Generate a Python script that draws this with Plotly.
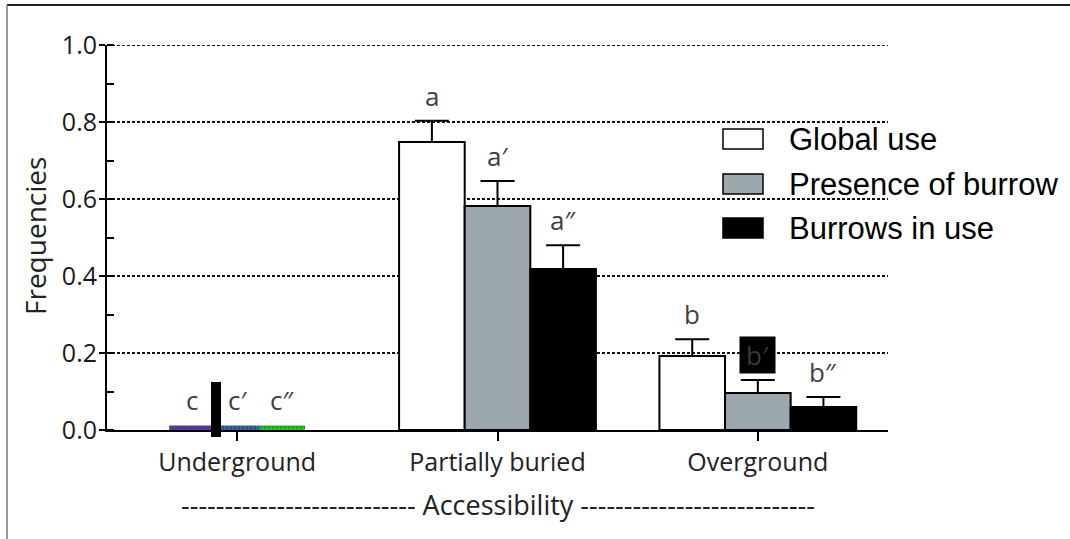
import plotly.graph_objects as go

# ---------------- data ----------------
categories = ["Underground", "Partially buried", "Overground"]
series_names = ["Global use", "Presence of burrow", "Burrows in use"]

global_use = [0.012, 0.748, 0.192]
presence_of_burrow = [0.012, 0.582, 0.096]
burrows_in_use = [0.012, 0.418, 0.060]

err_global_use = [0.0, 0.055, 0.044]
err_presence_of_burrow = [0.0, 0.065, 0.034]
err_burrows_in_use = [0.0, 0.062, 0.026]

letters_global_use = ["c", "a", "b"]
letters_presence_of_burrow = ["c′", "a′", "b′"]
letters_burrows_in_use = ["c″", "a″", "b″"]

y_tick_values = [0.0, 0.2, 0.4, 0.6, 0.8, 1.0]
y_tick_labels = ["0.0", "0.2", "0.4", "0.6", "0.8", "1.0"]

x_title = "-" * 27 + " Accessibility " + "-" * 27
y_title = "Frequencies"

# ---------------- styles ----------------
fill_colors = ["#ffffff", "#9ca8ae", "#000000"]
under_pattern = [("/", "#d02030", "#3040b0"), ("|", "#20b020", "#4040b0"), (".", "#107010", "#30c030")]
group_widths = [0.174, 0.252, 0.252]
W, H = 1070, 539
L, R, T, B = 107, 182, 45, 109
PW, PH = W - L - R, H - T - B
GRID_DASH = "3px,2px"

def px_x(p):
    return (p - L) / PW

def px_y(p):
    return (H - B - p) / PH

fig = go.Figure()

all_vals = [global_use, presence_of_burrow, burrows_in_use]
all_errs = [err_global_use, err_presence_of_burrow, err_burrows_in_use]
all_letters = [letters_global_use, letters_presence_of_burrow, letters_burrows_in_use]

annotations = []
for i, name in enumerate(series_names):
    vals = all_vals[i]
    errs = all_errs[i]
    offsets = [-1.5 * w + i * w for w in group_widths]
    shape, fg, bg = under_pattern[i]
    # underground (no error bars, striped fill)
    fig.add_bar(
        x=categories[:1], y=vals[:1], width=group_widths[:1], offset=offsets[:1],
        name=name, showlegend=False,
        marker=dict(color=bg, line=dict(width=0),
                    pattern=dict(shape=shape, fgcolor=fg, bgcolor=bg, size=4, solidity=0.5)),
    )
    # other groups with error bars
    fig.add_bar(
        x=categories[1:], y=vals[1:], width=group_widths[1:], offset=offsets[1:],
        name=name, showlegend=False,
        marker=dict(color=fill_colors[i], line=dict(color="#000000", width=2)),
        error_y=dict(type="data", symmetric=False, array=errs[1:], arrayminus=[0] * 2,
                     color="#000000", thickness=2, width=17),
    )
    for j, cat in enumerate(categories):
        top = vals[j] + errs[j]
        ann = dict(
            x=cat, y=top, xref="x", yref="y", text=all_letters[i][j], showarrow=False,
            xshift=(offsets[j] + group_widths[j] / 2) * PW / 3.0,
            yshift=25, yanchor="middle", xanchor="center",
            font=dict(family="Open Sans", size=26, color="#404040"),
        )
        if i == 1 and j == 2:
            ann.update(bgcolor="#000000", width=33, height=34,
                       font=dict(family="Open Sans", size=26, color="#3a3a3a"))
        annotations.append(ann)

# custom legend
legend_rows_y = [139, 184, 228]
for i, name in enumerate(series_names):
    yc = legend_rows_y[i]
    fig.add_shape(type="rect", xref="paper", yref="paper",
                  x0=px_x(723), x1=px_x(763), y0=px_y(yc + 10), y1=px_y(yc - 10),
                  fillcolor=fill_colors[i], line=dict(color="#000000", width=1.5))
    annotations.append(dict(x=px_x(787), y=px_y(yc), xref="paper", yref="paper", text=name,
                            showarrow=False, xanchor="left", yanchor="middle",
                            font=dict(family="Liberation Sans", size=31, color="#000000")))

# axis titles
annotations.append(dict(x=px_x(35), y=px_y(236), xref="paper", yref="paper", text=y_title,
                        showarrow=False, textangle=-90, xanchor="center", yanchor="middle",
                        font=dict(family="Open Sans", size=28, color="#222222")))
annotations.append(dict(x=px_x(498), y=px_y(504), xref="paper", yref="paper", text=x_title,
                        showarrow=False, xanchor="center", yanchor="middle",
                        font=dict(family="Open Sans", size=27, color="#222222")))

# top gridline at 1.0 (plotly skips the gridline on the range edge)
fig.add_shape(type="line", xref="paper", yref="y", x0=0, x1=1,
              y0=y_tick_values[-1], y1=y_tick_values[-1],
              line=dict(color="#111111", width=2, dash=GRID_DASH), layer="below")

# frame (top and left edges of the picture)
fig.add_shape(type="line", xref="paper", yref="paper", x0=px_x(7), x1=px_x(1075),
              y0=px_y(5), y1=px_y(5), line=dict(color="#222222", width=2))
fig.add_shape(type="line", xref="paper", yref="paper", x0=px_x(7), x1=px_x(7),
              y0=px_y(5), y1=px_y(545), line=dict(color="#777777", width=1.5))
# dark blemish over the underground group
fig.add_shape(type="rect", xref="paper", yref="paper", x0=px_x(211), x1=px_x(221),
              y0=px_y(437), y1=px_y(382), fillcolor="#000000", line=dict(width=0), layer="above")

fig.update_layout(
    width=W, height=H,
    margin=dict(l=L, r=R, t=T, b=B, pad=0),
    plot_bgcolor="#ffffff", paper_bgcolor="#ffffff",
    barmode="group",
    showlegend=False,
    annotations=annotations,
    font=dict(family="Open Sans", color="#222222"),
)
fig.update_xaxes(
    type="category", range=[-0.5, 2.5],
    showline=True, linecolor="#000000", linewidth=2,
    ticks="outside", ticklen=9, tickwidth=2, tickcolor="#000000",
    tickfont=dict(family="Open Sans", size=25, color="#222222"),
    showgrid=False, zeroline=False,
)
fig.update_yaxes(
    range=[0, 1.0], tickvals=y_tick_values, ticktext=y_tick_labels,
    showline=True, linecolor="#000000", linewidth=2,
    ticks="outside", ticklen=6, tickwidth=2, tickcolor="#000000",
    ticklabelstandoff=-3,
    tickfont=dict(family="Open Sans", size=25, color="#1a1a1a"),
    showgrid=True, gridcolor="#111111", gridwidth=2, griddash=GRID_DASH,
    zeroline=False,
    minor=dict(dtick=0.1, ticks="inside", ticklen=7, tickwidth=2, tickcolor="#000000", showgrid=False),
)

fig.write_html("out.html", config={"displayModeBar": False},
               post_script="document.body.style.margin='0';document.body.style.overflow='hidden';")
